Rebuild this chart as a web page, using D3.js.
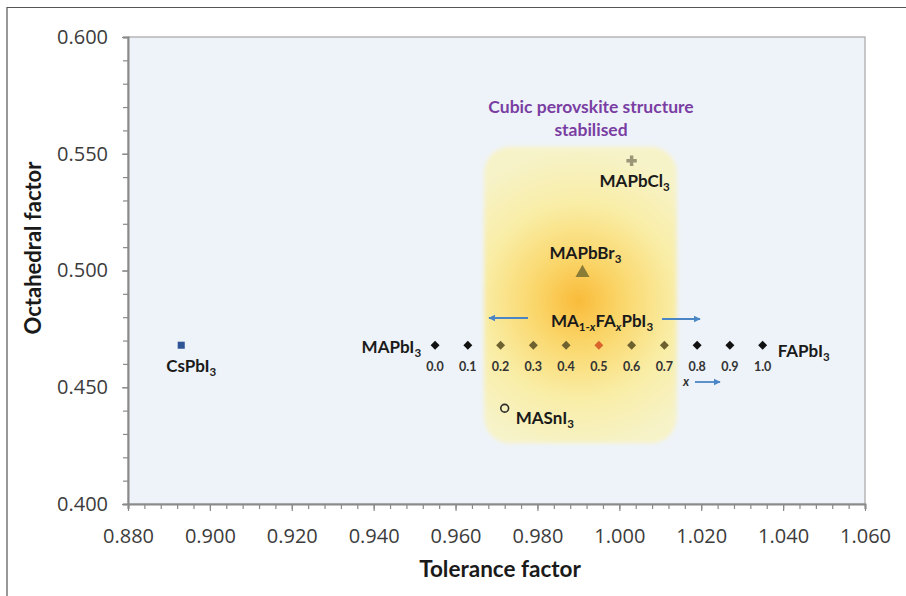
<!DOCTYPE html>
<html>
<head>
<meta charset="utf-8">
<script src="https://cdn.jsdelivr.net/npm/d3@7"></script>
<style>
  html, body { margin: 0; padding: 0; background: #ffffff; }
  svg { display: block; }
</style>
</head>
<body>
<svg id="chart" width="906" height="596"></svg>
<script>
// ---- data ----
// MA(1-x)FA(x)PbI3 solid-solution series
const fraction = ["0.0", "0.1", "0.2", "0.3", "0.4", "0.5", "0.6", "0.7", "0.8", "0.9", "1.0"];
const seriesTolerance = [0.955, 0.963, 0.971, 0.979, 0.987, 0.995, 1.003, 1.011, 1.019, 1.027, 1.035];
const seriesOctahedral = [0.468, 0.468, 0.468, 0.468, 0.468, 0.468, 0.468, 0.468, 0.468, 0.468, 0.468];
const seriesColor = ["#111111", "#111111", "#6e6130", "#6e6130", "#6e6130", "#d9642c", "#6e6130", "#6e6130", "#111111", "#111111", "#111111"];

// other single compounds
const compoundNames = ["CsPbI3", "MAPbCl3", "MAPbBr3", "MASnI3"];
const compoundTolerance = [0.893, 1.003, 0.991, 0.972];
const compoundOctahedral = [0.468, 0.547, 0.499, 0.441];

// cubic-stable region (tolerance / octahedral extents) and its hot spot
const regionTolerance = [0.967, 1.014];
const regionOctahedral = [0.426, 0.553];
const regionCentre = [0.990, 0.487];

// axes
const xDomain = [0.880, 1.060];
const yDomain = [0.400, 0.600];
const xTicks = [0.88, 0.90, 0.92, 0.94, 0.96, 0.98, 1.00, 1.02, 1.04, 1.06];
const yTicks = [0.40, 0.45, 0.50, 0.55, 0.60];

// ---- layout ----
const svg = d3.select("#chart");
const plotLeft = 128, plotRight = 865, plotTop = 37, plotBottom = 504;
const x = d3.scaleLinear().domain(xDomain).range([plotLeft, plotRight]);
const y = d3.scaleLinear().domain(yDomain).range([plotBottom, plotTop]);

const labelFont = "Lato, 'Open Sans', sans-serif";
const tickFont = "'Open Sans', 'Noto Sans', sans-serif";

// outer frame (top and left edges)
svg.append("path")
  .attr("d", "M7,596 L7,7.5 L906,7.5")
  .attr("fill", "none").attr("stroke", "#555").attr("stroke-width", 1.2);

// plot background
svg.append("rect")
  .attr("x", plotLeft).attr("y", plotTop)
  .attr("width", plotRight - plotLeft).attr("height", plotBottom - plotTop)
  .attr("fill", "#eef3f9").attr("stroke", "#a6a6a6").attr("stroke-width", 1.2);

// cubic region: soft rounded box with a warm radial glow
const defs = svg.append("defs");
const grad = defs.append("radialGradient")
  .attr("id", "glow")
  .attr("gradientUnits", "userSpaceOnUse")
  .attr("cx", x(regionCentre[0])).attr("cy", y(regionCentre[1]))
  .attr("r", 150);
grad.append("stop").attr("offset", "0%").attr("stop-color", "#f9bb3a");
grad.append("stop").attr("offset", "30%").attr("stop-color", "#fad76c");
grad.append("stop").attr("offset", "65%").attr("stop-color", "#f9eda6");
grad.append("stop").attr("offset", "100%").attr("stop-color", "#f7f3c8");
defs.append("filter").attr("id", "soft")
  .attr("x", "-10%").attr("y", "-10%").attr("width", "120%").attr("height", "120%")
  .append("feGaussianBlur").attr("stdDeviation", 2);

svg.append("rect")
  .attr("x", x(regionTolerance[0])).attr("y", y(regionOctahedral[1]))
  .attr("width", x(regionTolerance[1]) - x(regionTolerance[0]))
  .attr("height", y(regionOctahedral[0]) - y(regionOctahedral[1]))
  .attr("rx", 26).attr("ry", 26)
  .attr("fill", "url(#glow)")
  .attr("filter", "url(#soft)");

// ---- axes ----
const axisColor = "#8a8a8a";
const xMinor = d3.range(0, 46).map(i => xDomain[0] + i * 0.004);
const yMinor = d3.range(0, 21).map(i => yDomain[0] + i * 0.01);

const gx = svg.append("g").attr("transform", `translate(0,${plotBottom})`);
gx.call(d3.axisBottom(x).tickValues(xMinor).tickSize(5).tickFormat(""));
gx.selectAll(".tick line").attr("stroke", axisColor).attr("stroke-width", 1.2);
gx.select(".domain").attr("stroke", axisColor).attr("stroke-width", 2);
const gxMaj = svg.append("g").attr("transform", `translate(0,${plotBottom})`)
  .call(d3.axisBottom(x).tickValues(xTicks).tickSize(7).tickPadding(18).tickFormat(d3.format(".3f")));
gxMaj.select(".domain").remove();
gxMaj.selectAll(".tick line").attr("stroke", axisColor).attr("stroke-width", 1.2);
gxMaj.selectAll(".tick text")
  .attr("font-family", tickFont).attr("font-size", 20).attr("fill", "#3c3c3c");

const gy = svg.append("g").attr("transform", `translate(${plotLeft},0)`);
gy.call(d3.axisLeft(y).tickValues(yMinor).tickSize(5).tickFormat(""));
gy.selectAll(".tick line").attr("stroke", axisColor).attr("stroke-width", 1.2);
gy.select(".domain").attr("stroke", axisColor).attr("stroke-width", 2);
const gyMaj = svg.append("g").attr("transform", `translate(${plotLeft},0)`)
  .call(d3.axisLeft(y).tickValues(yTicks).tickSize(6).tickPadding(14).tickFormat(d3.format(".3f")));
gyMaj.select(".domain").remove();
gyMaj.selectAll(".tick line").attr("stroke", axisColor).attr("stroke-width", 1.2);
gyMaj.selectAll(".tick text")
  .attr("font-family", tickFont).attr("font-size", 20).attr("fill", "#3c3c3c");

// axis titles
svg.append("text")
  .attr("x", 500).attr("y", 577)
  .attr("text-anchor", "middle")
  .attr("font-family", labelFont).attr("font-weight", 700).attr("font-size", 22.5)
  .attr("fill", "#1a1a1a").text("Tolerance factor");
svg.append("text")
  .attr("transform", "translate(41,248) rotate(-90)")
  .attr("text-anchor", "middle")
  .attr("font-family", labelFont).attr("font-weight", 700).attr("font-size", 22)
  .attr("fill", "#1a1a1a").text("Octahedral factor");

// ---- markers ----
const diamond = d3.symbol().type(d3.symbolSquare).size(40)();
svg.append("g").selectAll("path")
  .data(seriesTolerance)
  .join("path")
  .attr("d", diamond)
  .attr("transform", (d, i) => `translate(${x(d)},${y(seriesOctahedral[i])}) rotate(45)`)
  .attr("fill", (d, i) => seriesColor[i]);

svg.append("g").selectAll("text")
  .data(seriesTolerance)
  .join("text")
  .attr("x", d => x(d))
  .attr("y", (d, i) => y(seriesOctahedral[i]) + 26)
  .attr("text-anchor", "middle")
  .attr("font-family", labelFont).attr("font-weight", 700).attr("font-size", 12.5)
  .attr("fill", "#333")
  .text((d, i) => fraction[i]);

const shapes = [d3.symbolSquare, d3.symbolCross, d3.symbolTriangle, d3.symbolCircle];
const sizes = [50, 60, 85, 48];
const fills = ["#2f5597", "#9b9678", "#8a7b37", "none"];
const strokes = ["none", "none", "none", "#2b2b2b"];
svg.append("g").selectAll("path")
  .data(compoundTolerance)
  .join("path")
  .attr("d", (d, i) => d3.symbol().type(shapes[i]).size(sizes[i])())
  .attr("transform", (d, i) => `translate(${x(d)},${y(compoundOctahedral[i])})`)
  .attr("fill", (d, i) => fills[i])
  .attr("stroke", (d, i) => strokes[i])
  .attr("stroke-width", 1.6);

// ---- chemical labels with subscripts ----
function chem(xp, yp, anchor, parts, size) {
  const fs = size || 17;
  const t = svg.append("text")
    .attr("x", xp).attr("y", yp)
    .attr("text-anchor", anchor)
    .attr("font-family", labelFont).attr("font-weight", 700)
    .attr("font-size", fs).attr("fill", "#1a1a1a");
  let shift = 0;
  parts.forEach(p => {
    const s = t.append("tspan").text(p.t);
    const want = p.sub ? 4 : 0;
    if (want !== shift) { s.attr("dy", want - shift); shift = want; }
    if (p.sub) s.attr("font-size", fs * 0.68);
    if (p.it) s.attr("font-style", "italic");
  });
  return t;
}
chem(x(compoundTolerance[0]) + 10, 372, "middle", [{t: "CsPbI"}, {t: "3", sub: true}]);
chem(x(compoundTolerance[1]) + 3, 187, "middle", [{t: "MAPbCl"}, {t: "3", sub: true}]);
chem(x(compoundTolerance[2]) + 3, 259, "middle", [{t: "MAPbBr"}, {t: "3", sub: true}]);
chem(x(compoundTolerance[3]) + 11, 424, "start", [{t: "MASnI"}, {t: "3", sub: true}]);
chem(x(seriesTolerance[0]) - 14, 353, "end", [{t: "MAPbI"}, {t: "3", sub: true}]);
chem(x(seriesTolerance[10]) + 15, 357, "start", [{t: "FAPbI"}, {t: "3", sub: true}]);
chem(602, 327, "middle", [{t: "MA"}, {t: "1-", sub: true}, {t: "x", sub: true, it: true},
  {t: "FA"}, {t: "x", sub: true, it: true}, {t: "PbI"}, {t: "3", sub: true}]);

// region caption
svg.append("text")
  .attr("x", 591).attr("y", 113).attr("text-anchor", "middle")
  .attr("font-family", labelFont).attr("font-weight", 700).attr("font-size", 17.5)
  .attr("fill", "#7a3ea3").text("Cubic perovskite structure");
svg.append("text")
  .attr("x", 591).attr("y", 136).attr("text-anchor", "middle")
  .attr("font-family", labelFont).attr("font-weight", 700).attr("font-size", 17.5)
  .attr("fill", "#7a3ea3").text("stabilised");

// ---- arrows ----
defs.append("marker")
  .attr("id", "head").attr("viewBox", "0 0 10 10")
  .attr("refX", 9).attr("refY", 5)
  .attr("markerWidth", 4).attr("markerHeight", 4)
  .attr("orient", "auto")
  .append("path").attr("d", "M0,0 L10,5 L0,10 Z").attr("fill", "#4a86c6");

const arrows = [[528, 318, 489, 318], [662, 319, 700, 319], [695, 382, 720, 382]];
svg.append("g").selectAll("line")
  .data(arrows)
  .join("line")
  .attr("x1", d => d[0]).attr("y1", d => d[1])
  .attr("x2", d => d[2]).attr("y2", d => d[3])
  .attr("stroke", "#4a86c6").attr("stroke-width", 1.8)
  .attr("marker-end", "url(#head)");

svg.append("text")
  .attr("x", 686).attr("y", 386).attr("text-anchor", "middle")
  .attr("font-family", labelFont).attr("font-weight", 700).attr("font-style", "italic")
  .attr("font-size", 12.5).attr("fill", "#333").text("x");
</script>
</body>
</html>
